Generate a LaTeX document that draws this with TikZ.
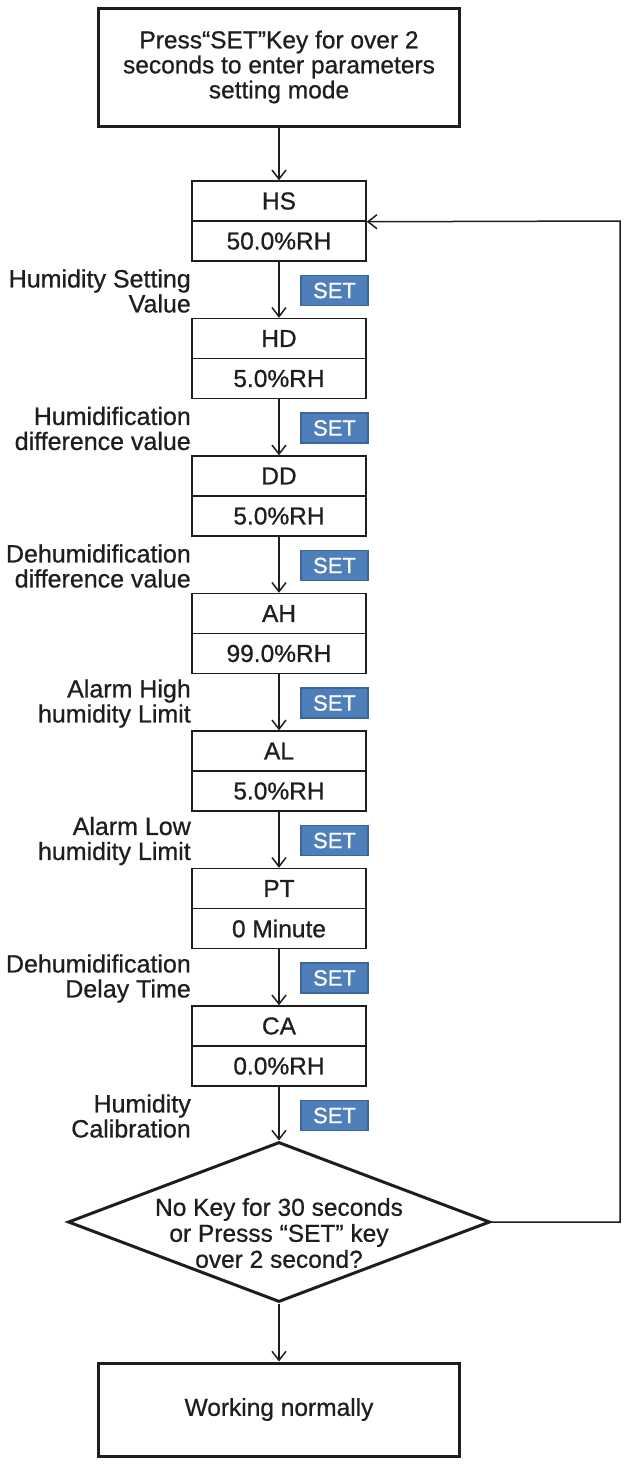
\documentclass[tikz,border=0pt]{standalone}
\usepackage{fontspec}
\setmainfont{Liberation Sans}[FakeBold=0.7]
\usetikzlibrary{arrows.meta,shapes.geometric}
\definecolor{ink}{HTML}{1E1E1E}
\definecolor{setfill}{HTML}{4F7FBB}
\definecolor{setline}{HTML}{3A6699}
\tikzset{
  bigbox/.style={draw=ink,line width=3pt,minimum width=361pt,inner sep=0pt,align=center,font=\fontsize{24.5}{25}\selectfont,text=ink},
  half/.style={draw=ink,line width=1.5pt,minimum width=174pt,minimum height=40pt,inner sep=0pt,font=\fontsize{24.5}{25}\selectfont,text=ink},
  setkey/.style={draw=setline,fill=setfill,line width=1.5pt,minimum width=67pt,minimum height=30pt,inner sep=0pt,text=white,font=\fontsize{22}{22}\selectfont},
  lbl/.style={anchor=east,align=right,inner sep=0pt,font=\fontsize{25}{25}\selectfont,text=ink},
  conn/.style={draw=ink,line width=1.5pt,-{Straight Barb[length=9pt,width=14pt,line width=1.5pt]}},
}
\begin{document}
\begin{tikzpicture}[x=1pt,y=1pt]
\useasboundingbox (0,0) rectangle (630,-1473);
\node[bigbox,minimum height=118pt] (start) at (279,-67) {Press“SET”Key for over 2\\seconds to enter parameters\\setting mode};
% parameter boxes
\foreach \nm/\code/\val/\top/\la/\lb in {
  hs/HS/50.0\%RH/181/Humidity Setting/Value,
  hd/HD/5.0\%RH/318.5/Humidification/difference value,
  dd/DD/5.0\%RH/456/Dehumidification/difference value,
  ah/AH/99.0\%RH/593.5/Alarm High/humidity Limit,
  al/AL/5.0\%RH/731/Alarm Low/humidity Limit,
  pt/PT/0 Minute/868.5/Dehumidification/Delay Time,
  ca/CA/0.0\%RH/1006/Humidity/Calibration}{
  \node[half] (\nm) at (279,-\top-20) {\code};
  \node[half] (\nm v) at (279,-\top-60) {\val};
  \node[setkey] (\nm set) at (334.5,-\top-109.5) {SET};
  \node[lbl] (\nm lbl) at (191,-\top-110) {\la\\\lb};
}
% decision
\node[draw=ink,line width=3pt,shape=diamond,minimum width=422pt,minimum height=160pt,inner sep=0pt] (dec) at (279,-1222) {};
\node[align=center,inner sep=0pt,font=\fontsize{24.5}{26}\selectfont,text=ink] (dectext) at (279,-1233) {No Key for 30 seconds\\or Presss “SET” key\\over 2 second?};
\node[bigbox,minimum height=93pt] (work) at (279,-1409.5) {Working normally};
% connectors
\draw[conn] (start.south -| hs.north) -- (hs.north);
\draw[conn] (hsv.south) -- (hd.north);
\draw[conn] (hdv.south) -- (dd.north);
\draw[conn] (ddv.south) -- (ah.north);
\draw[conn] (ahv.south) -- (al.north);
\draw[conn] (alv.south) -- (pt.north);
\draw[conn] (ptv.south) -- (ca.north);
\draw[conn] (cav.south) -- (dec.north);
\draw[conn] (dec.south) -- (work.north);
\coordinate (rb) at (620,-1222);
\coordinate (rt) at (620,-221);
\draw[conn] (dec.east) -- (rb) -- (rt) -- (hs.south east);
\end{tikzpicture}
\end{document}
